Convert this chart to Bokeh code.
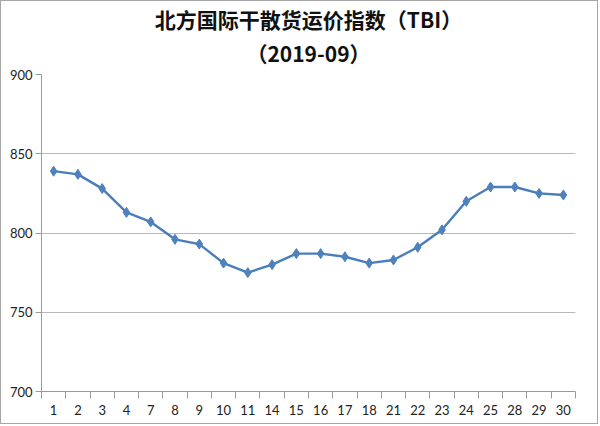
from bokeh.plotting import figure
from bokeh.models import Range1d, FixedTicker, Title, ColumnDataSource
from bokeh.embed import file_html
from bokeh.resources import INLINE

title_main = "北方国际干散货运价指数（TBI）"
title_sub = "（2019-09）"
days = ["1", "2", "3", "4", "7", "8", "9", "10", "11", "14", "15", "16",
        "17", "18", "21", "22", "23", "24", "25", "28", "29", "30"]
tbi = [839, 837, 828, 813, 807, 796, 793, 781, 775, 780, 787, 787,
       785, 781, 783, 791, 802, 820, 829, 829, 825, 824]
y_ticks = [700, 750, 800, 850, 900]

n = len(days)
xs = [i + 0.5 for i in range(n)]
src = ColumnDataSource(dict(x=xs, y=tbi, day=days))

p = figure(width=598, height=424, output_backend="svg", toolbar_location=None,
           x_range=Range1d(0, n), y_range=Range1d(y_ticks[0], y_ticks[-1]),
           min_border_left=40, min_border_right=24, min_border_top=73,
           min_border_bottom=34)
p.styles = {"border": "1px solid #a6a6a6"}
p.title.text = ""

t2 = Title(text=title_sub, align="center", text_font="Noto Sans CJK SC",
           text_font_size="21px", text_font_style="bold", text_color="#111111",
           standoff=14)
t1 = Title(text=title_main, align="center", text_font="Noto Sans CJK SC",
           text_font_size="21px", text_font_style="bold", text_color="#111111",
           standoff=-11)
p.add_layout(t2, "above")
p.add_layout(t1, "above")

p.outline_line_color = None
p.background_fill_color = "white"
p.border_fill_color = "white"

p.xgrid.visible = False
p.ygrid.ticker = FixedTicker(ticks=y_ticks)
p.ygrid.grid_line_color = "#b8b8b8"
p.ygrid.grid_line_width = 1

xa = p.xaxis[0]
xa.ticker = FixedTicker(ticks=xs, minor_ticks=list(range(n + 1)))
xa.major_label_overrides = {x: d for x, d in zip(xs, days)}
xa.major_tick_out = 0
xa.major_tick_in = 0
xa.minor_tick_out = 7
xa.minor_tick_in = 0
xa.minor_tick_line_color = "#9a9a9a"
xa.axis_line_color = "#9a9a9a"
xa.major_label_text_font = "Lato"
xa.major_label_text_font_size = "13px"
xa.major_label_text_color = "#222222"
xa.major_label_standoff = 6

ya = p.yaxis[0]
ya.ticker = FixedTicker(ticks=y_ticks)
ya.minor_tick_line_color = None
ya.major_tick_out = 6
ya.major_tick_in = 0
ya.major_tick_line_color = "#9a9a9a"
ya.axis_line_color = "#9a9a9a"
ya.major_label_text_font = "Lato"
ya.major_label_text_font_size = "13px"
ya.major_label_text_color = "#222222"
ya.major_label_standoff = 3

p.line("x", "y", source=src, line_color="#4a7ebb", line_width=2.4)
p.scatter("x", "y", source=src, marker="diamond", size=10,
          fill_color="#4f81bd", line_color="#4f81bd")

open("out.html", "w").write(file_html(p, INLINE))
